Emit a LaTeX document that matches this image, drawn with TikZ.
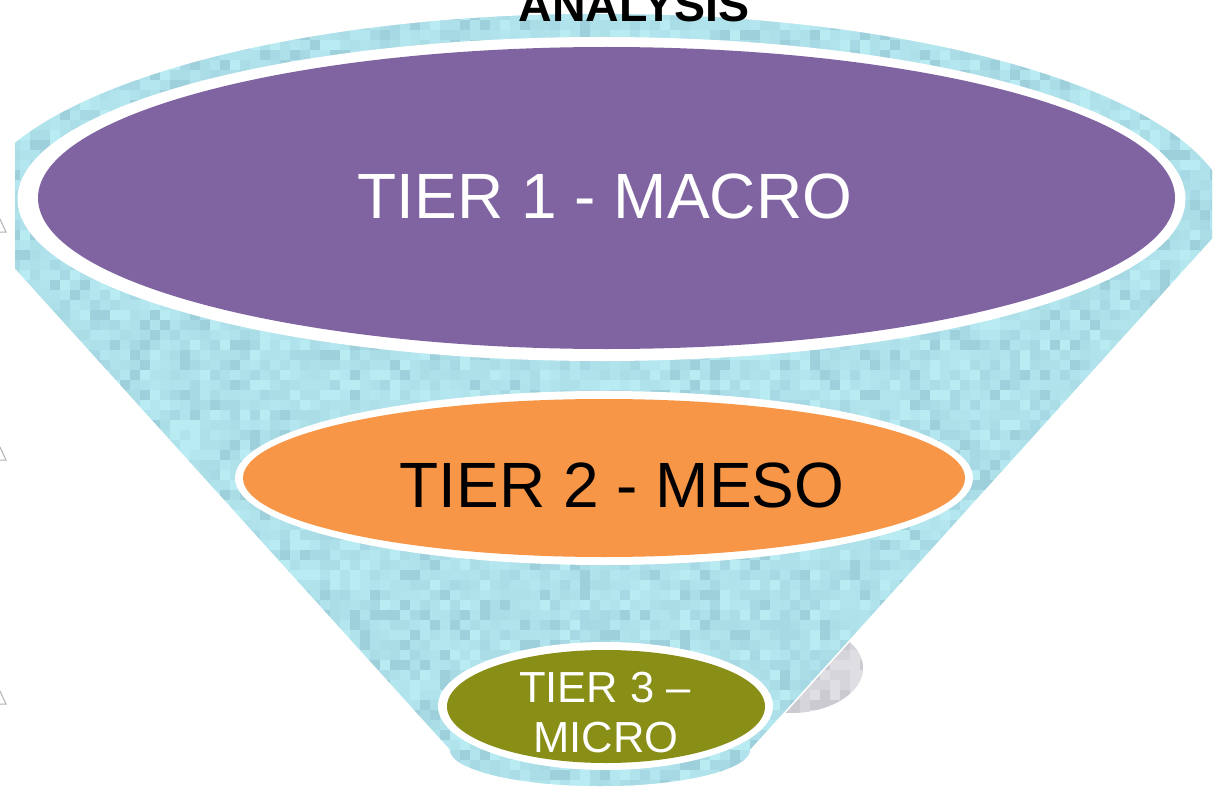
\documentclass[tikz,border=0pt]{standalone}
\usepackage{fontspec}
\setmainfont{Liberation Sans}
\definecolor{cy0}{HTML}{ADE0E9}
\definecolor{cy1}{HTML}{B3E6EE}
\definecolor{cy2}{HTML}{A6D9E3}
\definecolor{cy3}{HTML}{9DD0DA}
\definecolor{cy4}{HTML}{B9EBF3}
\definecolor{cy5}{HTML}{AFE2EA}
\definecolor{cy6}{HTML}{AADDE6}
\definecolor{cy7}{HTML}{B0E3EB}
\definecolor{gy0}{HTML}{D6D5DB}
\definecolor{gy1}{HTML}{CBCAD1}
\definecolor{gy2}{HTML}{DFDEE3}
\definecolor{tierone}{HTML}{8064A2}
\definecolor{tiertwo}{HTML}{F79646}
\definecolor{tierthree}{HTML}{898E17}
\tikzset{
  tiertext/.style={inner sep=0pt, anchor=base, font=\fontsize{64}{70}\selectfont},
  smalltext/.style={inner sep=0pt, anchor=base, font=\fontsize{43.5}{50}\selectfont, text=white},
  ring/.style={fill=white},
  marker/.style={draw=gray!60, line width=1pt}
}
\begin{document}
\begin{tikzpicture}[x=1pt,y=-1pt]
\useasboundingbox (0,0) rectangle (1221,789);
\clip (0,0) rectangle (1221,789);
% grey shape behind the funnel
\begin{scope}
  \clip (790,668) ellipse [x radius=73, y radius=45];
  \fill[gy0] (700,600) rectangle (880,720);
  \pgfmathsetseed{11}
  \foreach \j in {62,...,71}{
    \foreach \i in {71,...,87}{
      \pgfmathrandominteger{\r}{0}{2}
      \fill[fill=gy\r] (\i*10,\j*10) rectangle ++(10,10);
    }
  }
\end{scope}
% small markers at left edge
\foreach \t in {217,445,689}{
  \draw[marker] (-1,\t) -- (6,\t+15) -- (-8,\t+15) -- cycle;
}
% funnel
\def\funnel{(-31,219) arc [start angle=180, end angle=360, x radius=631, y radius=206]
  -- (751,750) arc [start angle=0, end angle=180, x radius=151, y radius=37] -- cycle}
\begin{scope}
  \clip (15,0) rectangle (1212,789);
  \begin{scope}
    \clip \funnel;
    \fill[cy0] (0,0) rectangle (1221,789);
    \pgfmathsetseed{7}
    \foreach \j in {0,...,78}{
      \pgfmathsetmacro\yy{\j*10}
      \pgfmathtruncatemacro\il{max(1,floor((-31+max(0,\yy-219)/1.107)/10))}
      \pgfmathtruncatemacro\ir{min(121,floor((1231-max(0,\yy-219)/1.107)/10))}
      \foreach \i in {\il,...,\ir}{
        \pgfmathrandominteger{\r}{0}{7}
        \fill[fill=cy\r] (\i*10,\yy) rectangle ++(10,10);
      }
    }
  \end{scope}
  \draw[white, line width=1.5pt] \funnel;
\end{scope}
% tier 1
\fill[ring] (601.5,199) ellipse [x radius=584, y radius=162];
\fill[tierone] (606.5,198) ellipse [x radius=568.5, y radius=151];
% tier 2
\fill[ring] (604,478) ellipse [x radius=369, y radius=87];
\fill[tiertwo] (604,478) ellipse [x radius=361, y radius=79];
% tier 3
\fill[ring] (605.5,706) ellipse [x radius=167.5, y radius=64];
\fill[tierthree] (606,706.5) ellipse [x radius=159, y radius=56.5];
% texts
\node[inner sep=0pt, anchor=base, font=\fontsize{46.5}{50}\selectfont\bfseries] (title) at (634,22) {ANALYSIS};
\node[tiertext, text=white] (t1) at (605,218) {TIER 1 - MACRO};
\node[tiertext, text=black] (t2) at (622,507) {TIER 2 - MESO};
\node[smalltext] (t3a) at (605,702) {TIER 3 –};
\node[smalltext] (t3b) at (606,752) {MICRO};
\end{tikzpicture}
\end{document}
